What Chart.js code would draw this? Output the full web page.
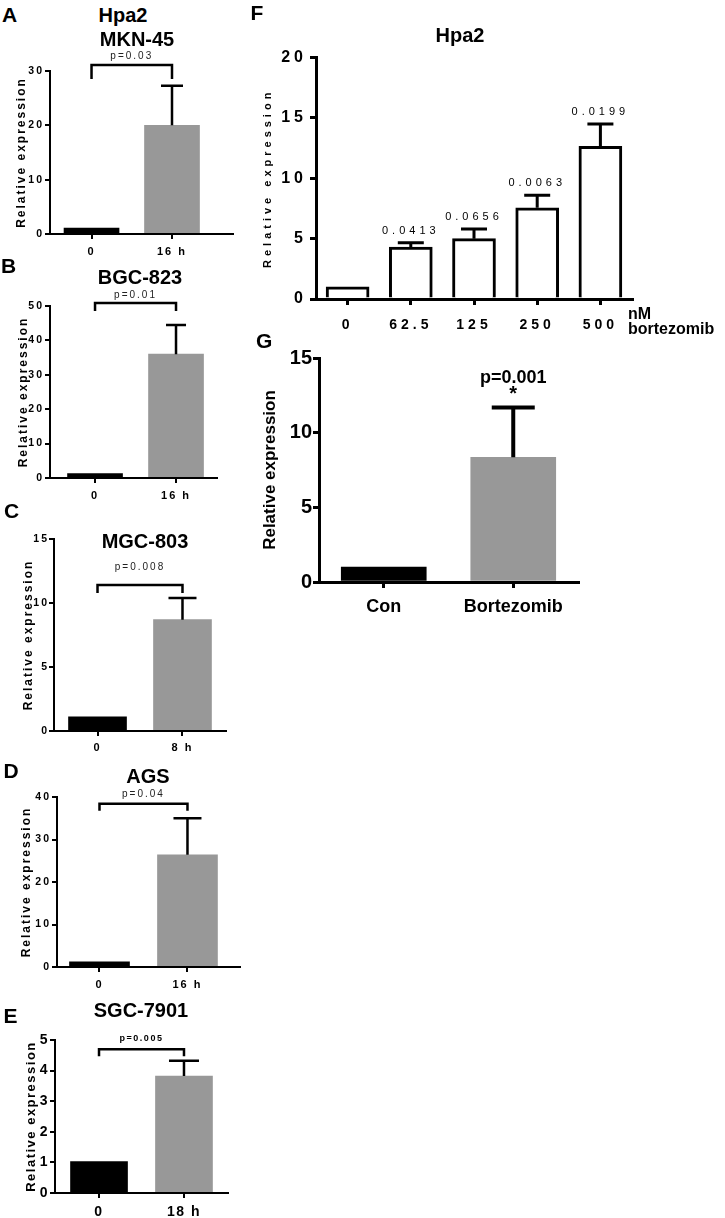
<!DOCTYPE html>
<html>
<head>
<meta charset="utf-8">
<script src="https://cdn.jsdelivr.net/npm/chart.js@4.4.1/dist/chart.umd.min.js"></script>
<style>
  body { margin: 0; background: #fff; width: 725px; height: 1218px; position: relative; overflow: hidden;
         font-family: "Liberation Sans", Arial, sans-serif; }
  canvas { position: absolute; }
  .t { position: absolute; font-weight: bold; line-height: 1; white-space: nowrap; color: #000; }
</style>
</head>
<body>
<script>
// ── Datos ─────────────────────────────────────────────────────
// A – MKN-45
const labelsA = ['0', '16 h'];
const valuesA = [1.1, 20];
const errorsA = [0, 7.3];
const pA = 'p=0.03';
const bracketA = 31.1;

// B – BGC-823
const labelsB = ['0', '16 h'];
const valuesB = [1.3, 36];
const errorsB = [0, 8.5];
const pB = 'p=0.01';
const bracketB = 50.9;

// C – MGC-803
const labelsC = ['0', '8 h'];
const valuesC = [1.1, 8.7];
const errorsC = [0, 1.7];
const pC = 'p=0.008';
const bracketC = 11.4;

// D – AGS
const labelsD = ['0', '16 h'];
const valuesD = [1.2, 26.4];
const errorsD = [0, 8.6];
const pD = 'p=0.04';
const bracketD = 38.4;

// E – SGC-7901
const labelsE = ['0', '18 h'];
const valuesE = [1.03, 3.82];
const errorsE = [0, 0.5];
const pE = 'p=0.005';
const bracketE = 4.7;

// F – Hpa2 vs dosis de bortezomib (nM)
const labelsF = ['0', '62.5', '125', '250', '500'];
const valuesF = [1.0, 4.3, 5.0, 7.55, 12.65];
const errorsF = [0, 0.35, 0.8, 1.05, 1.85];
const pF = ['', '0.0413', '0.0656', '0.0063', '0.0199'];

// G – Con vs Bortezomib
const labelsG = ['Con', 'Bortezomib'];
const valuesG = [1.0, 8.35];
const errorsG = [0, 3.33];
const pG = 'p=0.001';

const BLACK = '#000000';
const GRAY  = '#989898';
const FONT  = '"Liberation Sans", Arial, sans-serif';

// ── Plugin: barras de error, corchetes y p-valores ────────────
const extras = {
  id: 'extras',
  beforeDraw(chart, args, o) {
    chart.ctx.letterSpacing = (o.spacing || 0) + 'px';
  },
  afterDatasetsDraw(chart, args, o) {
    const ctx = chart.ctx;
    const ys = chart.scales.y;
    const bars = chart.getDatasetMeta(0).data;
    ctx.save();
    ctx.strokeStyle = '#000';
    ctx.fillStyle = '#000';
    ctx.lineWidth = o.errW;

    o.errors.forEach((e, i) => {
      if (!e) return;
      const b = bars[i];
      const top = ys.getPixelForValue(o.values[i] + e);
      ctx.beginPath();
      ctx.moveTo(b.x, b.y);
      ctx.lineTo(b.x, top);
      ctx.moveTo(b.x - o.cap, top);
      ctx.lineTo(b.x + o.cap, top);
      ctx.stroke();
    });

    ctx.textAlign = 'center';
    ctx.textBaseline = 'middle';

    if (o.bracket) {
      const k = o.bracket;
      const y = ys.getPixelForValue(k.level);
      const x1 = bars[0].x, x2 = bars[1].x;
      ctx.lineWidth = 2.5;
      ctx.beginPath();
      ctx.moveTo(x1, y + k.leg);
      ctx.lineTo(x1, y);
      ctx.lineTo(x2, y);
      ctx.lineTo(x2, y + k.leg);
      ctx.stroke();
      ctx.font = k.font;
      ctx.fillStyle = k.color || '#000';
      ctx.fillText(k.text, (x1 + x2) / 2, y - k.gap);
    }

    (o.notes || []).forEach(n => {
      if (!n.text) return;
      const b = bars[n.i];
      const top = ys.getPixelForValue(o.values[n.i] + o.errors[n.i]);
      ctx.font = n.font;
      ctx.fillStyle = '#000';
      ctx.fillText(n.text, b.x, top - n.gap);
    });
    ctx.restore();
  }
};

// ── Constructor de paneles ────────────────────────────────────
function makePanel(p) {
  const cv = document.createElement('canvas');
  cv.width = p.box[2];
  cv.height = p.box[3];
  cv.style.left = p.box[0] + 'px';
  cv.style.top = p.box[1] + 'px';
  document.body.appendChild(cv);

  const linear = !!p.xRange;
  const data = linear ? p.values.map((v, i) => ({ x: i + 1, y: v })) : p.values;
  const grid = {
    drawOnChartArea: false, offset: false,
    color: '#000', tickColor: '#000', lineWidth: p.axisW, tickWidth: p.axisW, tickLength: p.tickLen
  };
  const border = { display: true, color: '#000', width: p.axisW, z: 1 };

  const xScale = {
    type: linear ? 'linear' : 'category',
    offset: !linear,
    grid, border,
    ticks: {
      font: { family: FONT, ...p.xFont }, color: '#000', padding: p.xPad,
      maxRotation: 0, autoSkip: false,
      callback: (v, i) => p.labels[i]
    },
    afterFit: s => { s.height = p.xH; }
  };
  if (linear) {
    xScale.min = p.xRange[0];
    xScale.max = p.xRange[1];
    xScale.afterBuildTicks = s => { s.ticks = p.labels.map((l, i) => ({ value: i + 1 })); };
  }

  return new Chart(cv, {
    type: 'bar',
    data: {
      labels: p.labels,
      datasets: [{
        data,
        backgroundColor: p.fill,
        borderColor: '#000',
        borderWidth: p.barBorder || 0,
        borderSkipped: 'start',
        barThickness: p.barW
      }]
    },
    options: {
      responsive: false, animation: false, events: [],
      layout: { padding: { top: p.pad[0], right: p.pad[1], left: 0, bottom: 0 } },
      plugins: {
        legend: { display: false },
        tooltip: { enabled: false },
        extras: {
          spacing: p.spacing, values: p.values, errors: p.errors,
          errW: p.errW, cap: p.cap, bracket: p.bracket, notes: p.notes
        }
      },
      scales: {
        x: xScale,
        y: {
          min: 0, max: p.yMax,
          grid, border,
          ticks: { stepSize: p.yStep, font: { family: FONT, ...p.yFont }, color: '#000', padding: p.yPad },
          title: {
            display: true, text: 'Relative expression', color: '#000',
            font: { family: FONT, ...p.titleFont }, padding: { top: p.titlePad, bottom: 0 }
          },
          afterFit: s => { s.width = p.yW; }
        }
      }
    },
    plugins: [extras]
  });
}

// ── Paneles pequeños A–E ──────────────────────────────────────
const small = {
  axisW: 2, tickLen: 5, errW: 2.5, spacing: 2, yPad: 1,
  yFont: { size: 10.5, weight: 'bold' }, xFont: { size: 11, weight: 'bold' },
  titleFont: { size: 12, weight: 'bold' }, fill: [BLACK, GRAY]
};
const pFont = '10px ' + FONT;

makePanel({ ...small, box: [0, 45, 240, 215], pad: [26, 7], yW: 50, xH: 26, xRange: [0.484, 2.758],
  barW: 55, yMax: 30, yStep: 10, xPad: 6, titlePad: 14, cap: 11,
  labels: labelsA, values: valuesA, errors: errorsA,
  bracket: { level: bracketA, leg: 14, gap: 9, text: pA, font: pFont, color: '#222' } });

makePanel({ ...small, box: [0, 285, 230, 222], pad: [21, 13], yW: 50, xH: 29, xRange: [0.444, 2.506],
  barW: 55, yMax: 50, yStep: 10, xPad: 6, titlePad: 16, cap: 10,
  labels: labelsB, values: valuesB, errors: errorsB,
  bracket: { level: bracketB, leg: 8, gap: 8, text: pB, font: pFont, color: '#222' } });

makePanel({ ...small, box: [0, 525, 235, 235], pad: [14, 9], yW: 54, xH: 29, xRange: [0.488, 2.512],
  barW: 58, yMax: 15, yStep: 5, xPad: 5, yPad: 0, titlePad: 21, cap: 14,
  labels: labelsC, values: valuesC, errors: errorsC,
  bracket: { level: bracketC, leg: 8, gap: 18, text: pC, font: pFont, color: '#222' } });

makePanel({ ...small, box: [0, 783, 248, 210], pad: [14, 8], yW: 57, xH: 26, xRange: [0.517, 2.597],
  barW: 60, yMax: 40, yStep: 10, xPad: 6, titlePad: 19, cap: 14,
  labels: labelsD, values: valuesD, errors: errorsD,
  bracket: { level: bracketD, leg: 7, gap: 10, text: pD, font: pFont, color: '#222' } });

makePanel({ ...small, box: [0, 1025, 236, 193], pad: [15, 8], yW: 55, xH: 25, xRange: [0.482, 2.518],
  barW: 57, yMax: 5, yStep: 1, xPad: 6, titlePad: 24, cap: 15, spacing: 1.5,
  yFont: { size: 14, weight: 'bold' }, xFont: { size: 14, weight: 'bold' },
  titleFont: { size: 13, weight: 'bold' },
  labels: labelsE, values: valuesE, errors: errorsE,
  bracket: { level: bracketE, leg: 7, gap: 11, text: pE, font: 'bold 9px ' + FONT } });

// ── Panel F ───────────────────────────────────────────────────
makePanel({ box: [250, 45, 400, 295], pad: [9, 18], yW: 66, xH: 41,
  axisW: 3, tickLen: 6, errW: 3, cap: 13, spacing: 4, yPad: 3, xPad: 12,
  yFont: { size: 16, weight: 'bold' }, xFont: { size: 14, weight: 'bold' },
  titleFont: { size: 11, weight: 'bold' }, titlePad: 11,
  fill: '#ffffff', barBorder: 3, barW: 43, yMax: 20, yStep: 5,
  labels: labelsF, values: valuesF, errors: errorsF,
  notes: pF.map((t, i) => ({ i, text: t, gap: 12, font: '11px ' + FONT })) });

// ── Panel G ───────────────────────────────────────────────────
makePanel({ box: [250, 340, 340, 285], pad: [18, 12], yW: 69, xH: 43,
  axisW: 3, tickLen: 6, errW: 4, cap: 21.5, spacing: 0, yPad: 1, xPad: 8,
  yFont: { size: 20, weight: 'bold' }, xFont: { size: 18, weight: 'bold' },
  titleFont: { size: 17, weight: 'bold' }, titlePad: 10,
  fill: [BLACK, GRAY], barW: 85, yMax: 15, yStep: 5,
  labels: labelsG, values: valuesG, errors: errorsG,
  notes: [
    { i: 1, text: pG, gap: 30, font: 'bold 18px ' + FONT },
    { i: 1, text: '*', gap: 13, font: 'bold 20px ' + FONT }
  ] });

// ── Títulos y letras de panel ─────────────────────────────────
const texts = [
  // [texto, x, top, tamaño, centrado]
  ['A', 2, 4.3, 21, false],
  ['Hpa2', 123, 4.7, 20, true],
  ['MKN-45', 137, 29.2, 20, true],
  ['B', 1, 255.3, 21, false],
  ['BGC-823', 140, 267.2, 20, true],
  ['C', 4, 500.3, 21, false],
  ['MGC-803', 145, 530.7, 20, true],
  ['D', 3.5, 760.3, 21, false],
  ['AGS', 148, 766.2, 20, true],
  ['E', 3.5, 1005.3, 21, false],
  ['SGC-7901', 141, 1000.2, 20, true],
  ['F', 250.5, 2.3, 21, false],
  ['Hpa2', 460, 25.2, 20, true],
  ['G', 256, 329.8, 21, false],
  ['nM', 628, 306, 16, false],
  ['bortezomib', 628, 321, 16, false]
];
texts.forEach(([s, x, top, size, center]) => {
  const d = document.createElement('div');
  d.className = 't';
  d.textContent = s;
  d.style.left = x + 'px';
  d.style.top = top + 'px';
  d.style.fontSize = size + 'px';
  if (center) d.style.transform = 'translateX(-50%)';
  document.body.appendChild(d);
});
</script>
</body>
</html>
